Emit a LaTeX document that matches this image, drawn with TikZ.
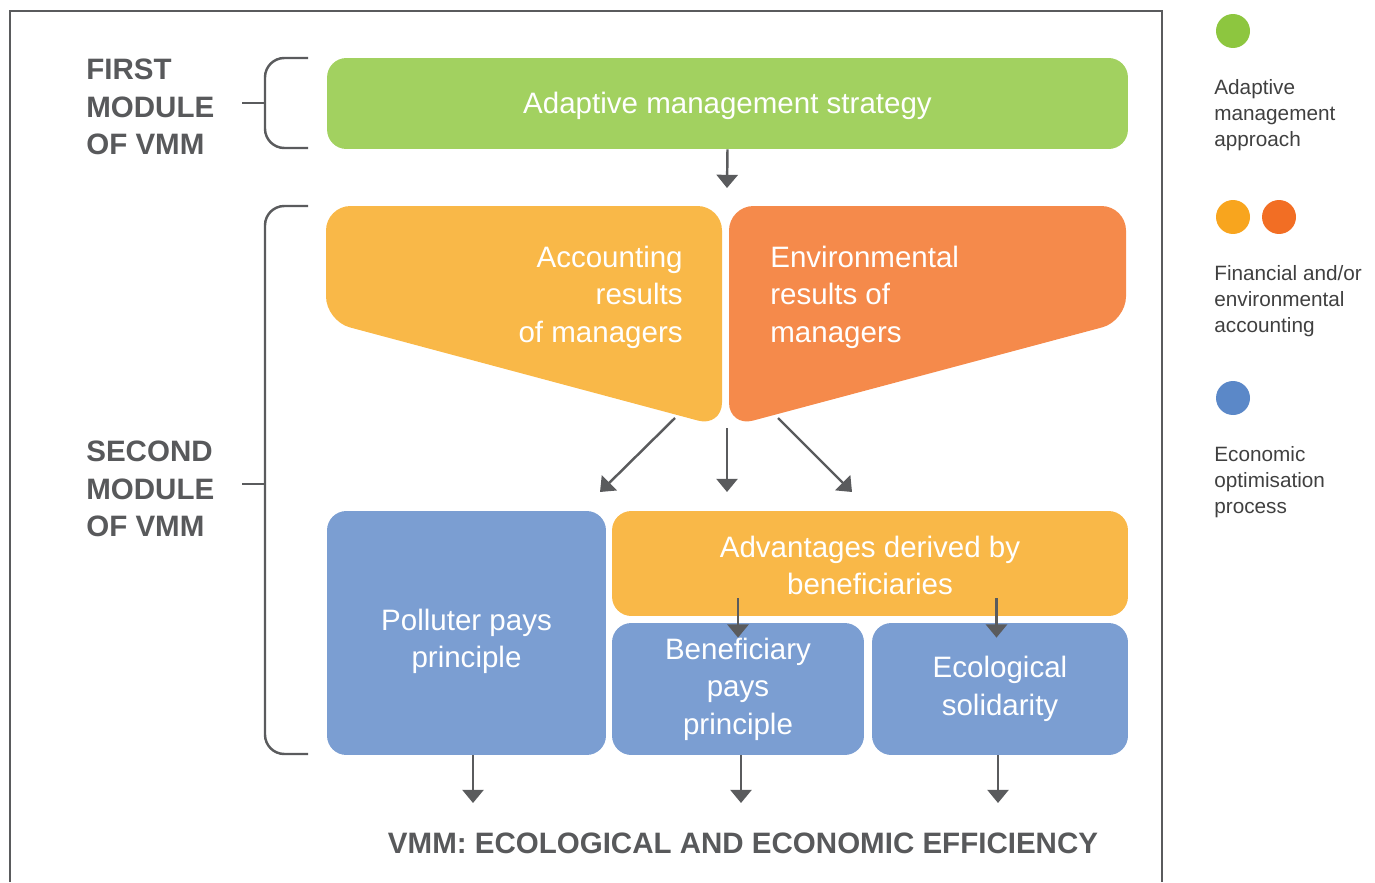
\documentclass[tikz,border=0pt]{standalone}
\usepackage{fontspec}
\setmainfont{Liberation Sans}
\usetikzlibrary{arrows.meta,positioning}

\definecolor{stratgreen}{HTML}{A2D160}
\definecolor{accyellow}{HTML}{F9B848}
\definecolor{envorange}{HTML}{F58A4B}
\definecolor{econblue}{HTML}{7B9ED2}
\definecolor{leggreen}{HTML}{8DC63F}
\definecolor{legyellow}{HTML}{F8A51E}
\definecolor{legorange}{HTML}{F26E24}
\definecolor{legblue}{HTML}{5B88C8}
\definecolor{linegray}{HTML}{5A5B5D}
\definecolor{labelgray}{HTML}{58595B}
\definecolor{leggray}{HTML}{404040}

\newcommand\boxfont{\fontsize{16.8}{21.3}\selectfont}
\newcommand\modfont{\fontsize{16.8}{21.3}\selectfont\bfseries}
\newcommand\legfont{\fontsize{11.8}{14.7}\selectfont}

\begin{document}
\begin{tikzpicture}[x=0.02cm,y=-0.02cm,>={Triangle[width=12pt,length=7.5pt]},
    line/.style={draw=linegray,line width=1.4pt},
    arr/.style={line,->},
    bracket/.style={line,rounded corners=11pt},
    box/.style={rectangle,rounded corners=11pt,inner sep=0pt,text=white,align=center,font=\boxfont},
    modlabel/.style={anchor=west,inner sep=0pt,align=left,text=labelgray,font=\modfont},
    dot/.style={circle,inner sep=0pt,minimum size=0.68cm},
    legtext/.style={anchor=west,inner sep=0pt,align=left,text=leggray,font=\legfont}]

  \useasboundingbox (0,0) rectangle (1375,882);
  \draw[line] (10,882) -- (10,11) -- (1162,11) -- (1162,882);

  % first module
  \node[box,fill=stratgreen,minimum width=16.02cm,minimum height=1.82cm,text height=15pt] (strat) at (727.5,103.5) {Adaptive management strategy};
  \coordinate (stratEnd) at (727,188);
  \draw[arr] (strat.south) -- (stratEnd);

  % accounting funnels
  \fill[accyellow,rounded corners=14pt] (326,206) -- (722,206) -- (722,427) -- (326,321) -- cycle;
  \fill[envorange,rounded corners=14pt] (729,206) -- (1126,206) -- (1126,321) -- (729,427) -- cycle;
  \node[anchor=east,inner sep=0pt,align=right,text=white,font=\boxfont] (acc) at (683,297) {Accounting\\results\\of managers};
  \node[anchor=west,inner sep=0pt,align=left,text=white,font=\boxfont] (env) at (770,297) {Environmental\\results of\\managers};

  \coordinate (accOut) at (675,418);
  \coordinate (midOut) at (727,428);
  \coordinate (envOut) at (778,418);
  \coordinate (toPol) at (600,492);
  \coordinate (toMid) at (727,492);
  \coordinate (toAdv) at (852,492);
  \draw[arr] (accOut) -- (toPol);
  \draw[arr] (midOut) -- (toMid);
  \draw[arr] (envOut) -- (toAdv);

  % economic boxes
  \node[box,fill=econblue,minimum width=5.58cm,minimum height=4.88cm,text height=43pt] (pol) at (466.5,633) {Polluter pays\\principle};
  \node[box,fill=accyellow,minimum width=10.32cm,minimum height=2.1cm,text height=36pt] (adv) at (870,563.5) {Advantages derived by\\beneficiaries};
  \node[box,fill=econblue,minimum width=5.04cm,minimum height=2.64cm] (ben) at (738,689) {Beneficiary\\pays\\principle};
  \node[box,fill=econblue,minimum width=5.12cm,minimum height=2.64cm] (eco) at (1000,689) {Ecological\\solidarity};
  \draw[arr] ([yshift=14pt]ben.north) -- ([yshift=-8.5pt]ben.north);
  \draw[arr] ([xshift=-2pt,yshift=14pt]eco.north) -- ([xshift=-2pt,yshift=-8.5pt]eco.north);

  \coordinate (out1) at (473,803);
  \coordinate (out2) at (741,803);
  \coordinate (out3) at (998,803);
  \draw[arr] (pol.south -| out1) -- (out1);
  \draw[arr] (ben.south -| out2) -- (out2);
  \draw[arr] (eco.south -| out3) -- (out3);

  \node[font=\modfont,text=labelgray] (vmm) at (743,843) {VMM: ECOLOGICAL AND ECONOMIC EFFICIENCY};

  % brackets and module labels
  \draw[bracket] (308,58) -- (265,58) -- (265,148) -- (308,148);
  \draw[line] (242,103) -- (265,103);
  \draw[bracket] (308,206) -- (265,206) -- (265,754) -- (308,754);
  \draw[line] (242,484) -- (265,484);
  \node[modlabel] (first) at (86,107) {FIRST\\MODULE\\OF VMM};
  \node[modlabel] (second) at (86,489) {SECOND\\MODULE\\OF VMM};

  % legend
  \node[dot,fill=leggreen] (dotG) at (1233,31) {};
  \node[dot,fill=legyellow] (dotY) at (1233,217) {};
  \node[dot,fill=legorange] (dotO) at (1279,217) {};
  \node[dot,fill=legblue] (dotB) at (1233,398) {};
  \node[legtext] (legG) at (1214,115) {Adaptive\\management\\approach};
  \node[legtext] (legY) at (1214,301) {Financial and/or\\environmental\\accounting};
  \node[legtext] (legB) at (1214,482) {Economic\\optimisation\\process};
\end{tikzpicture}
\end{document}
